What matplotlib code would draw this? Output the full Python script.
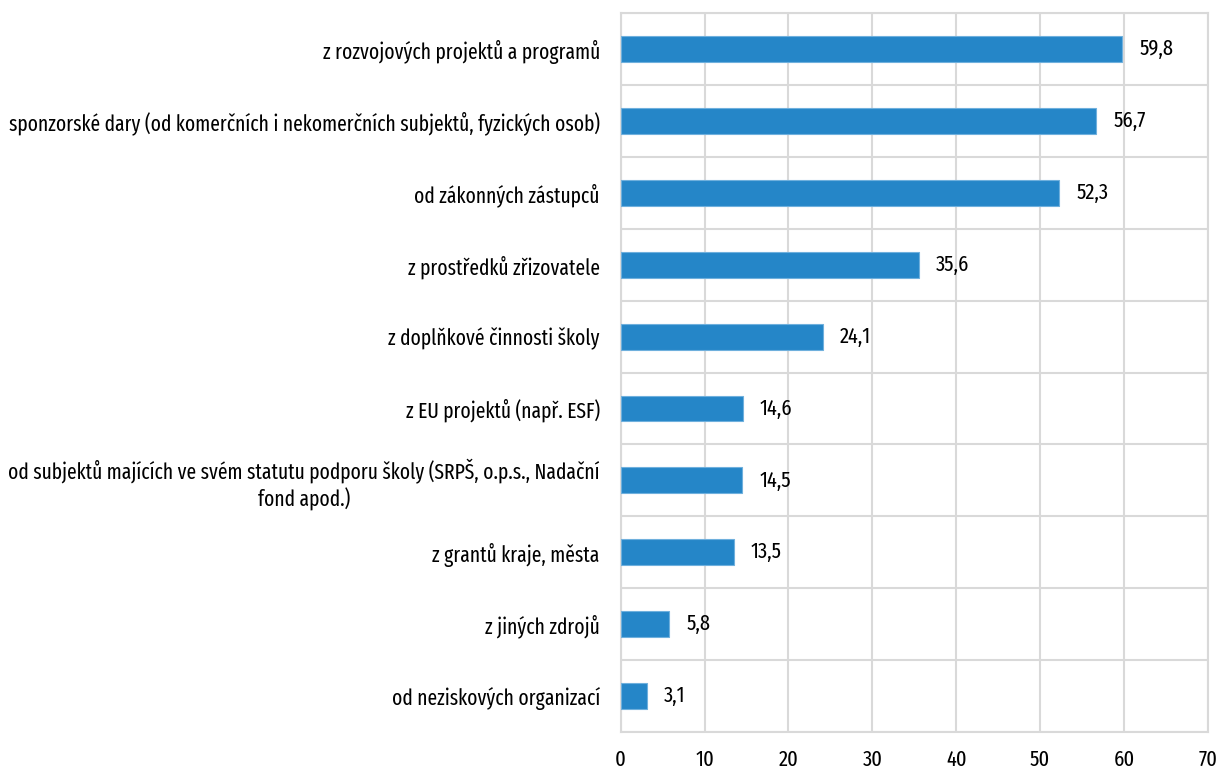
import numpy as np
import matplotlib
matplotlib.use('Agg')
import matplotlib.pyplot as plt

categories = [
    'z rozvojových projektů a programů',
    'sponzorské dary (od komerčních i nekomerčních subjektů, fyzických osob)',
    'od zákonných zástupců',
    'z prostředků zřizovatele',
    'z doplňkové činnosti školy',
    'z EU projektů (např. ESF)',
    'od subjektů majících ve svém statutu podporu školy (SRPŠ, o.p.s., Nadační\nfond apod.)',
    'z grantů kraje, města',
    'z jiných zdrojů',
    'od neziskových organizací',
]
values = [59.8, 56.7, 52.3, 35.6, 24.1, 14.6, 14.5, 13.5, 5.8, 3.1]
xticks = [0, 10, 20, 30, 40, 50, 60, 70]

plt.rcParams['font.family'] = ['Fira Sans Extra Condensed', 'DejaVu Sans']
plt.rcParams['font.stretch'] = 'condensed'
grid_c = '#d9d9d9'
fs = 15.3

fig = plt.figure(figsize=(12.17, 7.74), dpi=100)
ax = fig.add_axes([0.510, 0.0543, 0.9926 - 0.510, 0.983 - 0.0543])

y = np.arange(len(categories))
ax.barh(y, values, height=0.36, color='#2586c8', edgecolor='#6fb0dd', linewidth=0.8, zorder=3)
for yi, v in zip(y, values):
    ax.text(v + 2.0, yi, ('%.1f' % v).replace('.', ','), va='center', ha='left', fontsize=16)

ax.set_xlim(0, 70)
ax.set_ylim(len(categories) - 0.5, -0.5)
ax.set_xticks(xticks)
ax.set_xticklabels([str(t) for t in xticks], fontsize=16)
ax.set_yticks(y)
ax.set_yticklabels(categories, fontsize=fs, multialignment='center')
ax.set_yticks(np.arange(len(categories) + 1) - 0.5, minor=True)
ax.tick_params(axis='y', which='both', length=0, pad=15)
ax.tick_params(axis='x', length=0, pad=12)
ax.grid(axis='x', color=grid_c, linewidth=1.5, zorder=0)
ax.grid(axis='y', which='minor', color=grid_c, linewidth=1.5, zorder=0)
ax.grid(axis='y', which='major', visible=False)
for s in ax.spines.values():
    s.set_color(grid_c)
    s.set_linewidth(1.5)

plt.savefig('out.png', dpi=100)
